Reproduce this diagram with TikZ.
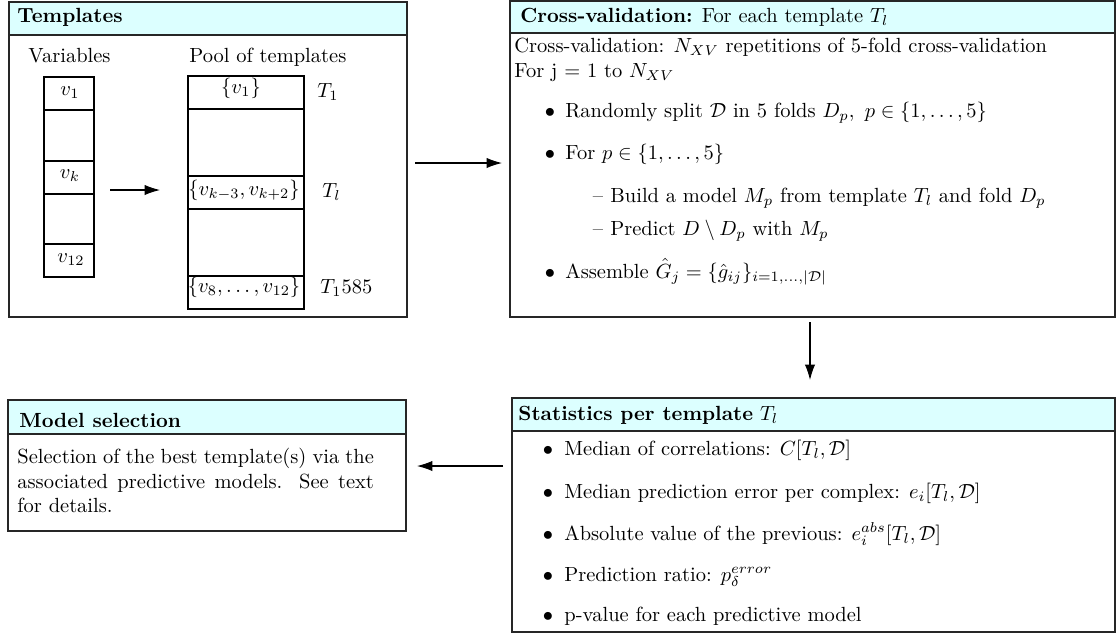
\documentclass[tikz,border=0pt]{standalone}
\usetikzlibrary{arrows.meta,fit}
\definecolor{hdrcyan}{RGB}{220,255,255}
\begin{document}
\begin{tikzpicture}[x=0.488pt,y=-0.488pt,
  box/.style={draw=black!85, line width=0.7pt, inner sep=0pt},
  hdr/.style={draw=black!85, line width=0.7pt, fill=hdrcyan, inner sep=0pt},
  cell/.style={draw=black, line width=0.5pt, inner sep=0pt},
  txt/.style={anchor=base west, inner sep=0pt},
  ctxt/.style={anchor=base, inner sep=0pt},
  arr/.style={-{Latex[length=7.5pt,width=5pt]}, line width=0.5pt},
]
\useasboundingbox (0,0) rectangle (1117,635);

% ---------- Templates box ----------
\node[hdr, fit={(9,2) (407,35)}] (tmplh) {};
\node[box, fit={(9,2) (407,317)}] (tmpl) {};
\node[txt] (tmplt) at (17,22) {\textbf{Templates}};
\node[txt] (varst) at (28,62) {Variables};
\node[txt] (poolt) at (189,62) {Pool of templates};

% variables column
\node[cell, fit={(44,77) (94,110)}] (va) {};
\node[cell, fit={(44,110) (94,161)}] (vb) {};
\node[cell, fit={(44,161) (94,194)}] (vc) {};
\node[cell, fit={(44,194) (94,244)}] (vd) {};
\node[cell, fit={(44,244) (94,277)}] (ve) {};
\node[ctxt] (val) at (70,95) {$v_1$};
\node[ctxt] (vcl) at (70,178) {$v_k$};
\node[ctxt] (vel) at (71,262) {$v_{12}$};

% pool column
\node[cell, fit={(188,76) (304,109)}] (pa) {};
\node[cell, fit={(188,109) (304,176)}] (pb) {};
\node[cell, fit={(188,176) (304,209)}] (pc) {};
\node[cell, fit={(188,209) (304,276)}] (pd) {};
\node[cell, fit={(188,276) (304,309)}] (pe) {};
\node[ctxt] (pal) at (241,93) {$\{v_1\}$};
\node[ctxt] (pcl) at (244,195) {$\{v_{k-3},v_{k+2}\}$};
\node[ctxt] (pel) at (244,292) {$\{v_8,\ldots,v_{12}\}$};
\node[txt] (t1) at (317,97) {$T_1$};
\node[txt] (tl) at (322,197) {$T_l$};
\node[txt] (tn) at (320,293) {$T_1585$};

\coordinate (a1s) at (110,190);
\coordinate (a1e) at (160,190);
\draw[arr] (a1s) -- (a1e);

% ---------- Cross-validation box ----------
\node[hdr, fit={(510,1) (1115,33)}] (cvh) {};
\node[box, fit={(510,1) (1115,317)}] (cv) {};
\node[txt] (cvt) at (520,22) {\textbf{Cross-validation:} For each template $T_l$};
\node[txt] (cv1) at (514,52) {Cross-validation: $N_{XV}$ repetitions of 5-fold cross-validation};
\node[txt] (cv2) at (514,77) {For j $=$ 1 to $N_{XV}$};
\node[ctxt] (cb1) at (550,117) {$\bullet$};
\node[txt] (ci1) at (565,117) {Randomly split $\mathcal{D}$ in 5 folds $D_p,\ p\in\{1,\ldots,5\}$};
\node[ctxt] (cb2) at (550,159) {$\bullet$};
\node[txt] (ci2) at (565,159) {For $p\in\{1,\ldots,5\}$};
\node[ctxt] (cd1) at (598,202) {\textendash};
\node[txt] (cj1) at (610,202) {Build a model $M_p$ from template $T_l$ and fold $D_p$};
\node[ctxt] (cd2) at (598,235) {\textendash};
\node[txt] (cj2) at (610,235) {Predict $D\setminus D_p$ with $M_p$};
\node[ctxt] (cb3) at (550,278) {$\bullet$};
\node[txt] (ci3) at (565,278) {Assemble $\hat{G}_j=\{\hat{g}_{ij}\}_{i=1,\ldots,|\mathcal{D}|}$};

\coordinate (a2s) at (415,163);
\coordinate (a2e) at (502,163);
\draw[arr] (a2s) -- (a2e);

% ---------- Statistics box ----------
\node[hdr, fit={(512,398) (1115,431)}] (sth) {};
\node[box, fit={(512,398) (1115,632)}] (st) {};
\node[txt] (stt) at (518,420) {\textbf{Statistics per template} $T_l$};
\node[ctxt] (sb1) at (548,455) {$\bullet$};
\node[txt] (si1) at (564,455) {Median of correlations: $C[T_l,\mathcal{D}]$};
\node[ctxt] (sb2) at (548,498) {$\bullet$};
\node[txt] (si2) at (564,498) {Median prediction error per complex: $e_i[T_l,\mathcal{D}]$};
\node[ctxt] (sb3) at (548,540) {$\bullet$};
\node[txt] (si3) at (564,540) {Absolute value of the previous: $e_i^{abs}[T_l,\mathcal{D}]$};
\node[ctxt] (sb4) at (548,581) {$\bullet$};
\node[txt] (si4) at (564,581) {Prediction ratio: $p_\delta^{error}$};
\node[ctxt] (sb5) at (548,621) {$\bullet$};
\node[txt] (si5) at (564,621) {p-value for each predictive model};

\coordinate (a3s) at (810,322);
\coordinate (a3e) at (810,380);
\draw[arr] (a3s) -- (a3e);

% ---------- Model selection box ----------
\node[hdr, fit={(8,400) (406,434)}] (msh) {};
\node[box, fit={(8,400) (406,531)}] (ms) {};
\node[txt] (mst) at (19,427) {\textbf{Model selection}};
\node[anchor=north west, inner sep=0pt, text width=174pt, align=justify] (msx) at (17,448)
  {Selection of the best template(s) via the associated predictive models. See text for details.};

\coordinate (a4s) at (503,466);
\coordinate (a4e) at (417,466);
\draw[arr] (a4s) -- (a4e);
\end{tikzpicture}
\end{document}
